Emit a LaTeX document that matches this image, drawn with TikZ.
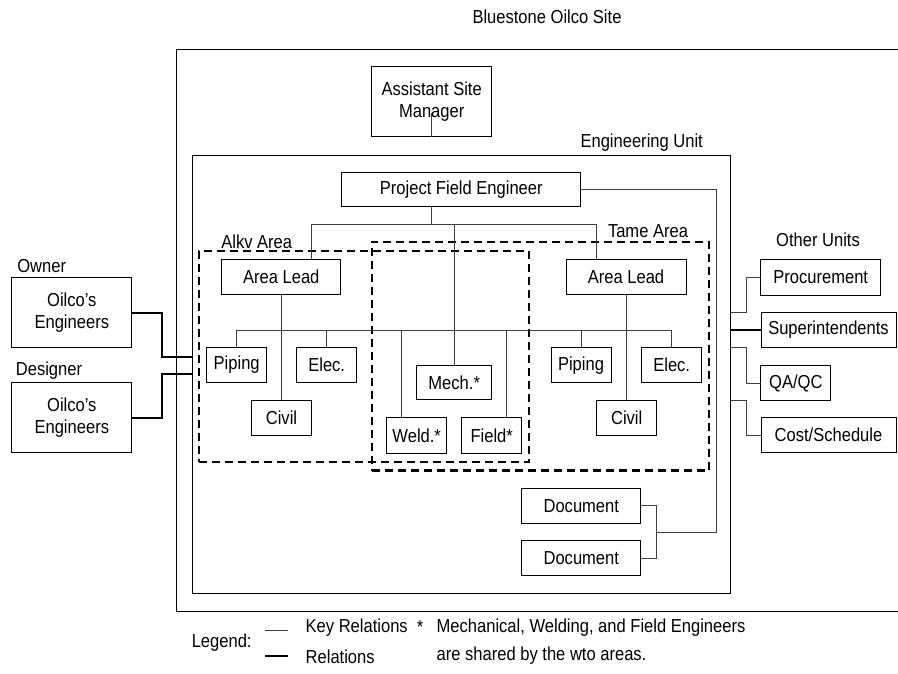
\documentclass[tikz,border=0pt]{standalone}
\usepackage{fontspec}
\setmainfont[FakeStretch=0.88]{Liberation Sans}
\begin{document}
\begin{tikzpicture}[x=1pt,y=-1pt,
  every node/.style={font=\fontsize{18.8}{22}\selectfont, inner sep=0pt, outer sep=0pt},
  box/.style={draw=black, line width=1pt, align=center, fill=white},
  conn/.style={draw=black!75, line width=0.9pt},
  rel/.style={draw=black, line width=2.2pt},
  area/.style={draw=black, line width=2.2pt, dash pattern=on 8pt off 5pt},
  frame/.style={draw=black, line width=1pt}]
\useasboundingbox (0,0) rectangle (898,673);
% outer site frame and engineering unit
\node[frame, minimum width=744pt, minimum height=562pt] (site) at (548,330) {};
\node at (547,17) (sitelbl) {Bluestone Oilco Site};
\node[frame, minimum width=538pt, minimum height=438.3pt] (eng) at (461.7,374.15) {};
\node at (641.7,143) (englbl) {Engineering Unit};
% dashed areas
\node[area, minimum width=329.7pt, minimum height=211.6pt] (alkv) at (364.15,356.5) {};
\node[area, minimum width=337.6pt, minimum height=228.5pt] (tame) at (540.5,356.25) {};
\node at (256.7,241.7) (alkvlbl) {Alkv Area};
\node at (648,230.7) (tamelbl) {Tame Area};
% boxes
\node[box, minimum width=120pt, minimum height=70pt] (asm) at (431.7,101.7) {Assistant Site\\Manager};
\node[box, minimum width=239.3pt, minimum height=34.4pt] (pfe) at (461.3,189.5) {Project Field Engineer};
\node[box, minimum width=119.3pt, minimum height=35.7pt] (lal) at (281.3,277.1) {Area Lead};
\node[box, minimum width=120pt, minimum height=35.7pt] (tal) at (626,277.1) {Area Lead};
\node[box, minimum width=60pt, minimum height=35.4pt] (lpip) at (236.7,365) {Piping};
\node[box, minimum width=60pt, minimum height=35.4pt] (lelec) at (326.7,365) {Elec.};
\node[box, minimum width=60pt, minimum height=35pt] (lciv) at (281.5,417.5) {Civil};
\node[box, minimum width=75pt, minimum height=34.3pt] (mech) at (454.2,382.8) {Mech.*};
\node[box, minimum width=60pt, minimum height=36pt] (weld) at (416.7,435.3) {Weld.*};
\node[box, minimum width=60pt, minimum height=36pt] (field) at (491.7,435.3) {Field*};
\node[box, minimum width=60pt, minimum height=35pt] (tpip) at (581,365.2) {Piping};
\node[box, minimum width=60pt, minimum height=35pt] (telec) at (671.7,365.2) {Elec.};
\node[box, minimum width=60pt, minimum height=35pt] (tciv) at (626.7,417.5) {Civil};
\node[box, minimum width=119.3pt, minimum height=35pt] (doc1) at (581.3,505.8) {Document};
\node[box, minimum width=119.3pt, minimum height=35pt] (doc2) at (581.3,558.3) {Document};
% external
\node at (41.7,265.7) (ownlbl) {Owner};
\node at (49,370.7) (deslbl) {Designer};
\node[box, minimum width=119.7pt, minimum height=70pt] (owner) at (71.8,312.7) {Oilco's\\Engineers};
\node[box, minimum width=119.7pt, minimum height=70pt] (designer) at (71.8,417.7) {Oilco's\\Engineers};
\node at (818,240) (othlbl) {Other Units};
\node[box, minimum width=120pt, minimum height=36pt] (proc) at (820.7,277) {Procurement};
\node[box, minimum width=135pt, minimum height=34.5pt] (supt) at (828.5,330) {Superintendents};
\node[box, minimum width=69.7pt, minimum height=34.3pt] (qaqc) at (795.8,383) {QA/QC};
\node[box, minimum width=135pt, minimum height=35pt] (cost) at (828.5,435) {Cost/Schedule};
% junction coordinates
\coordinate (b1a) at (311.7,224.3);
\coordinate (b1b) at (596,224.3);
\coordinate (b1c) at (431,224.3);
\coordinate (b2a) at (236.7,330.7);
\coordinate (b2b) at (671.7,330.7);
\coordinate (r1) at (716,189.5);
\coordinate (dj) at (656,532.3);
\coordinate (asmtop) at (431.7,113);
% ASM stub
\draw[conn] (asmtop) -- (asmtop |- asm.south);
% PFE tree
\draw[conn] (b1c |- pfe.south) -- (b1c);
\draw[conn] (b1a |- lal.north) -- (b1a) -- (b1b) -- (b1b |- tal.north);
\draw[conn] (mech.north) -- (mech.north |- b1a);
\draw[conn] (lpip.north) -- (b2a) -- (b2b) -- (telec.north);
\draw[conn] (lelec.north) -- (lelec.north |- b2a);
\draw[conn] (tpip.north) -- (tpip.north |- b2a);
\draw[conn] ([xshift=-15pt]weld.north) -- ([xshift=-15pt]weld.north |- b2a);
\draw[conn] ([xshift=15pt]field.north) -- ([xshift=15pt]field.north |- b2a);
\draw[conn] (lal.south) -- (lal.south |- lciv.north);
\draw[conn] (tal.south) -- (tal.south |- tciv.north);
% documents
\draw[conn] (pfe.east) -- (r1) -- (r1 |- dj) -- (dj);
\draw[conn] (doc1.east) -- (doc1.east -| dj) -- (doc2.east -| dj) -- (doc2.east);
% owner / designer
\coordinate (lo) at (161.7,356.7);
\coordinate (ld) at (161.7,374.3);
\draw[rel] (owner.east) -- (owner.east -| lo) -- (lo) -- (lo -| eng.west);
\draw[rel] (designer.east) -- (designer.east -| ld) -- (ld) -- (ld -| eng.west);
% other units
\coordinate (ro) at (746.7,312.7);
\coordinate (rq) at (746.7,347);
\coordinate (rc) at (746.7,400.7);
\draw[conn] (ro -| eng.east) -- (ro) -- (ro |- proc.west) -- (proc.west);
\draw[rel, line width=1.8pt] (supt.west -| eng.east) -- (supt.west);
\draw[conn] (rq -| eng.east) -- (rq) -- (rq |- qaqc.west) -- (qaqc.west);
\draw[conn] (rc -| eng.east) -- (rc) -- (rc |- cost.west) -- (cost.west);
% legend
\node at (221.7,643) (leglbl) {Legend:};
\coordinate (k1) at (265,630.7);
\coordinate (k2) at (288,630.7);
\coordinate (k3) at (265,655.7);
\coordinate (k4) at (288,655.7);
\draw[conn] (k1) -- (k2);
\draw[rel] (k3) -- (k4);
\node[anchor=west] at (305.7,628) (keyrel) {Key Relations};
\node[anchor=west] at (305.7,656.7) (relrel) {Relations};
\node at (420,626.7) (star) {*};
\node[anchor=west] at (436.7,628) (note1) {Mechanical, Welding, and Field Engineers};
\node[anchor=west] at (436.7,656) (note2) {are shared by the wto areas.};
\end{tikzpicture}
\end{document}
